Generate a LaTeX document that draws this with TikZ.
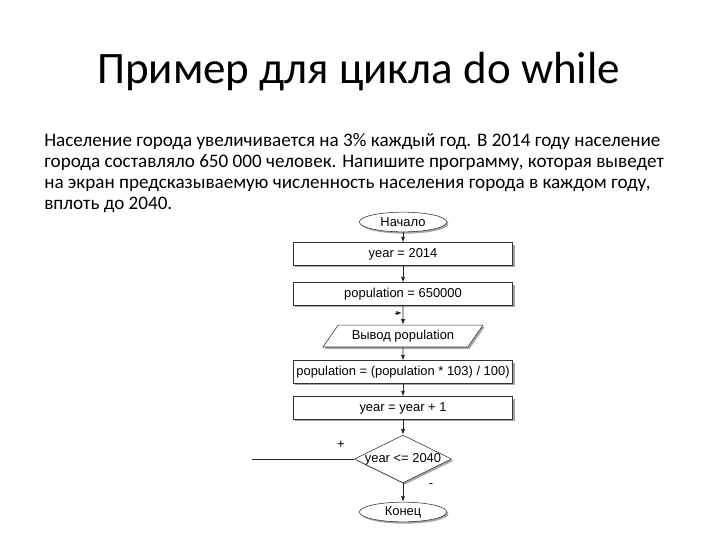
\documentclass[tikz,border=0pt]{standalone}
\usepackage{fontspec}
\setmainfont{Carlito}
\newfontfamily\chartfont{Liberation Sans}
\usetikzlibrary{shapes.geometric,shadows,arrows.meta}

\tikzset{
  chart/.style={font=\chartfont\fontsize{9.2}{11}\selectfont},
  shade/.style={drop shadow={shadow xshift=1.3pt, shadow yshift=-1.3pt, fill=black!35, opacity=1}},
  term/.style={chart, ellipse, draw=black!80, fill=white, minimum width=62pt, minimum height=14pt, inner sep=0pt, shade},
  stepbox/.style={chart, rectangle, draw=black!80, fill=white, minimum width=156pt, minimum height=16pt, inner sep=1pt, shade},
  iobox/.style={chart, trapezium, trapezium left angle=45, trapezium right angle=135, trapezium stretches=true,
    draw=black!80, fill=white, minimum width=114pt, minimum height=15.6pt, inner sep=0pt, shade},
  test/.style={chart, diamond, draw=black!80, fill=white, minimum width=69pt, minimum height=34pt, inner sep=0pt, shade},
}

\begin{document}
\begin{tikzpicture}[x=0.025cm, y=-0.025cm]
  \useasboundingbox (0,0) rectangle (720,540);
  % title and task
  \path (358.5,83) node[anchor=base, inner sep=0pt] (title) {\fontsize{32}{40}\selectfont Пример для цикла do while};
  \path (44,133) node[anchor=north west, align=left, inner sep=0pt, font=\fontsize{13.6}{14.9}\selectfont] (task)
    {Население города увеличивается на 3\% каждый год. В 2014 году население\\
     города составляло 650 000 человек. Напишите программу, которая выведет\\
     на экран предсказываемую численность населения города в каждом году,\\
     вплоть до 2040.};
  % flowchart
  \path (403,222) node[term] (start) {Начало};
  \path (403,254) node[stepbox] (year) {year = 2014};
  \path (403,294) node[stepbox] (pop) {population = 650000};
  \path (403,336) node[iobox] (out) {Вывод population};
  \path (403,372) node[stepbox] (calc) {population = (population * 103) / 100)};
  \path (403,408) node[stepbox] (inc) {year = year + 1};
  \path (403,459) node[test] (cond) {\makebox[0pt]{year <= 2040}};
  \path (403,512) node[term] (stop) {Конец};
  \path (341,445) node[chart] (yes) {+};
  \path (431,486) node[chart] (no) {-};
  \coordinate (loop) at (252,459);
  \coordinate (back) at (395,313);
  \coordinate (backtip) at (402,313);

  \begin{scope}[draw=black!85, line width=0.6pt, -{Latex[length=4pt,width=3pt]}]
    \draw (start.south) -- (year.north);
    \draw (year.south) -- (pop.north);
    \draw (pop.south) -- (out.north);
    \draw (out.south) -- (calc.north);
    \draw (calc.south) -- (inc.north);
    \draw (inc.south) -- (cond.north);
    \draw (cond.south) -- (stop.north);
    \draw (back) -- (backtip);
  \end{scope}
  \draw[black!85, line width=0.6pt] (loop) -- (cond.west);
\end{tikzpicture}
\end{document}
